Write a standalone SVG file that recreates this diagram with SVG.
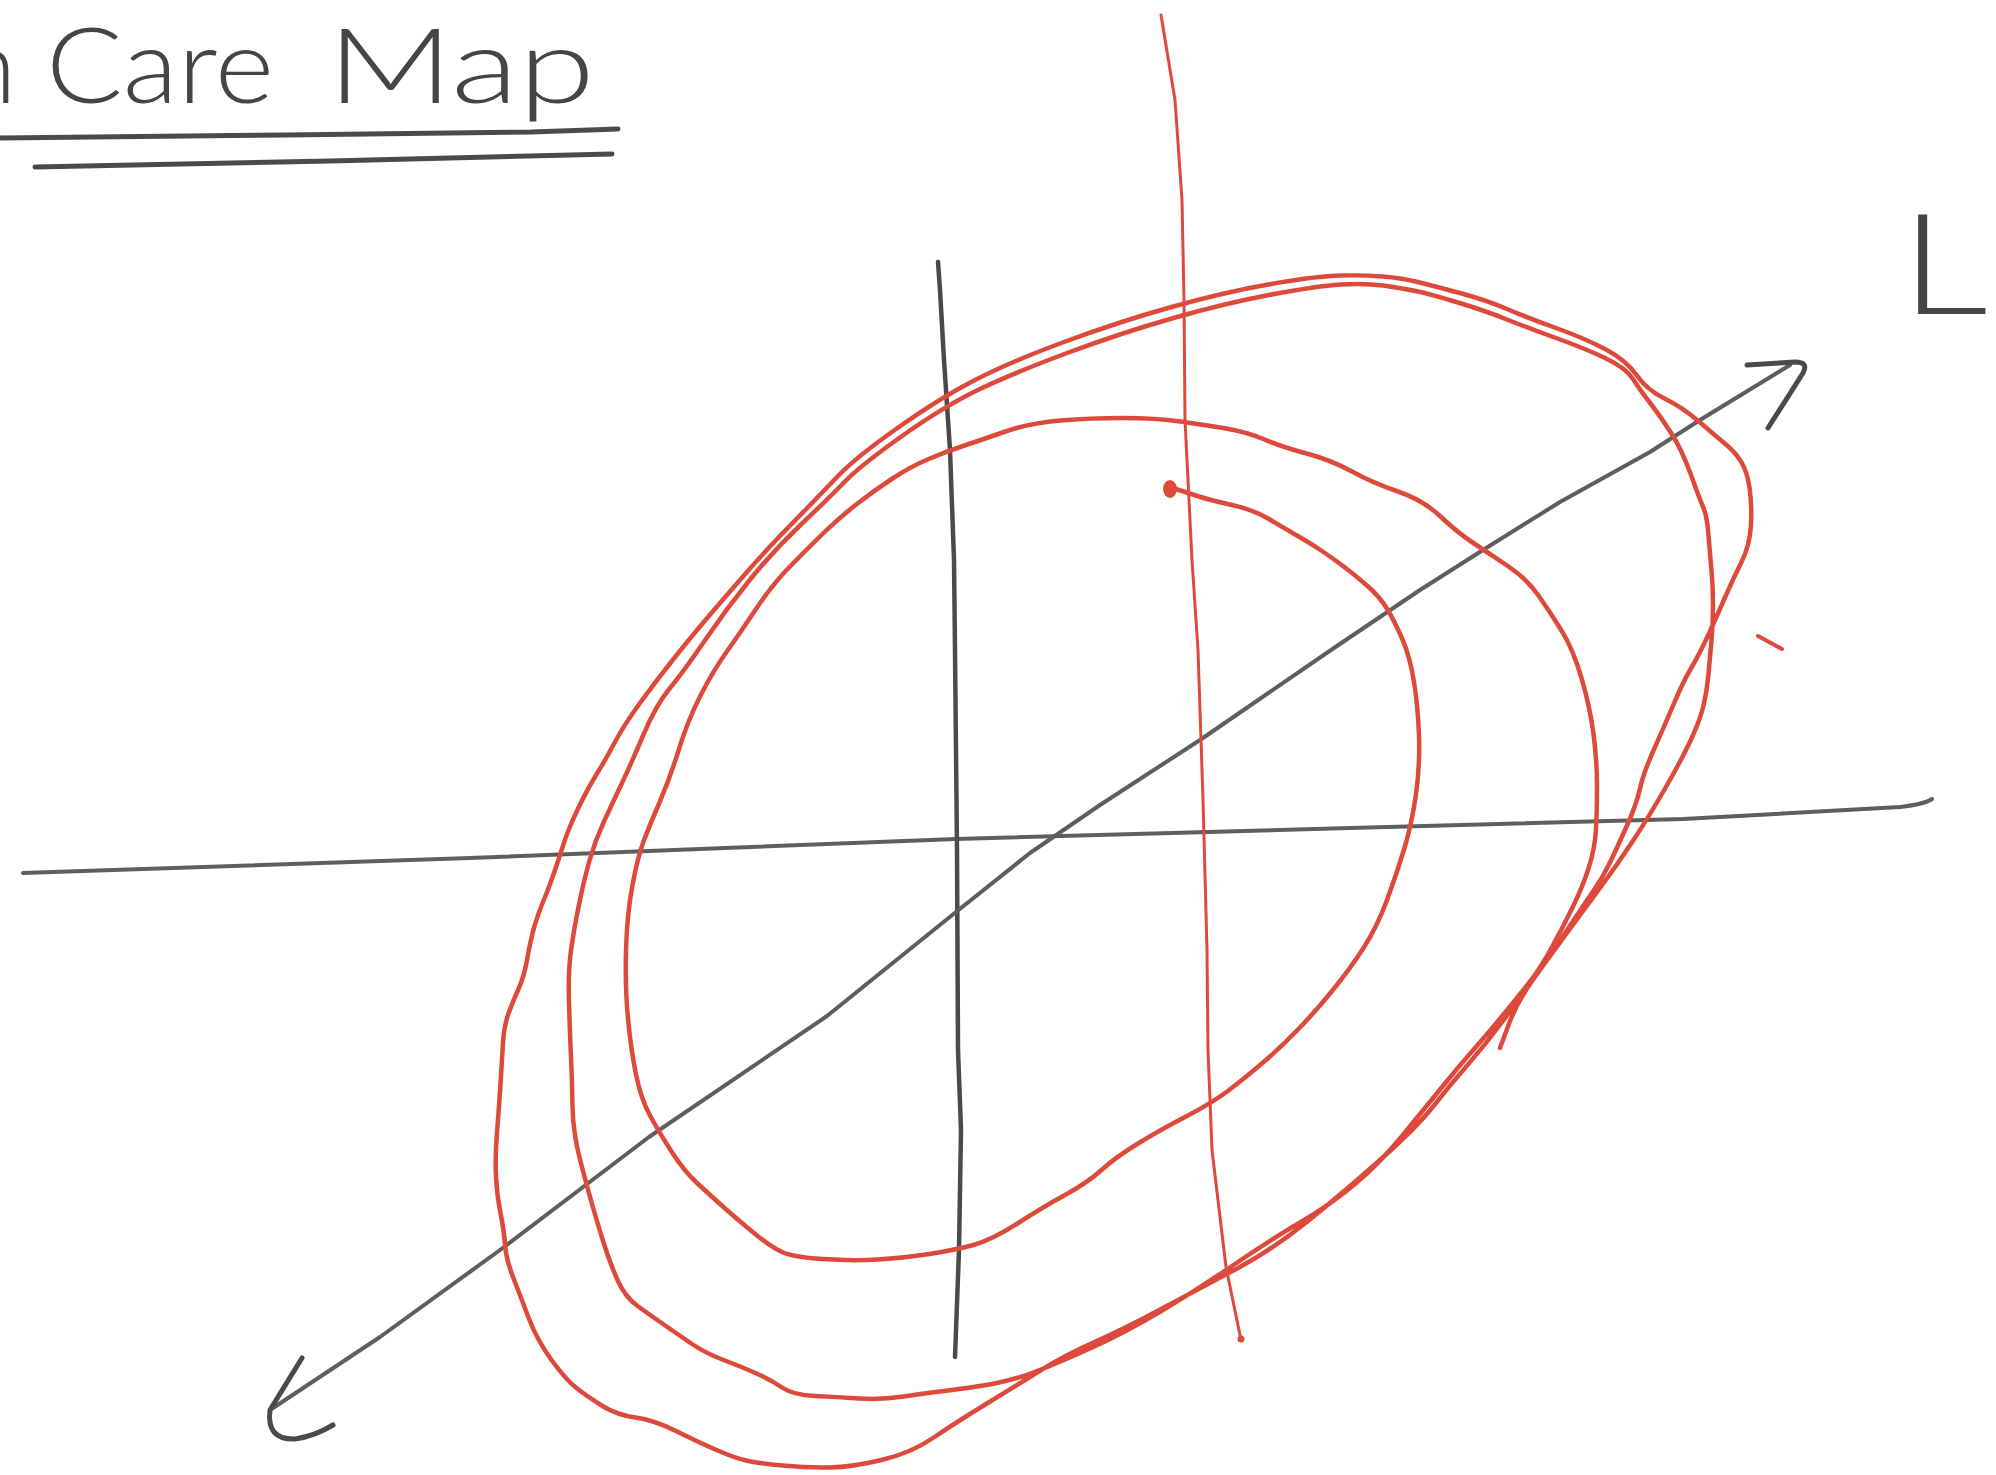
<svg xmlns="http://www.w3.org/2000/svg" width="1996" height="1475" viewBox="0 0 1996 1475">
<style>
.ink{fill:none;stroke:#4a4a4a;stroke-linecap:round;stroke-linejoin:round}
.axis{fill:none;stroke:#5e5e5e;stroke-linecap:round;stroke-linejoin:round}
.red{fill:none;stroke:#dd4a3c;stroke-linecap:round;stroke-linejoin:round}
.hand{font-family:Lato,"Open Sans","Liberation Sans",sans-serif;font-weight:300;fill:#454545}
</style>
<rect width="1996" height="1475" fill="#ffffff"/>

<g id="title">
  <text class="hand" x="-41" y="103" font-size="104">n</text>
  <text class="hand" y="103" font-size="104"><tspan x="46" textLength="228" lengthAdjust="spacingAndGlyphs">Care</tspan> <tspan x="327" textLength="268" lengthAdjust="spacingAndGlyphs">Map</tspan></text>
  <path class="ink" stroke-width="5" d="M -2 138 L 286 135 L 531 132 L 618 129"/>
  <path class="ink" stroke-width="5" d="M 35 167 L 330 161 L 612 154"/>
</g>

<g id="label-L">
  <text class="hand" x="1900" y="314" font-size="140" textLength="88" lengthAdjust="spacingAndGlyphs">L</text>
</g>

<g id="connectors">
  <g id="axis-horizontal">
    <path class="axis" stroke-width="4" d="M 23 873 L 470 858 L 956 839 L 1350 828 L 1683 819 L 1900 807 Q 1925 804 1932 799"/>
  </g>
  <g id="axis-vertical">
    <path class="ink" stroke-width="4.5" d="M 938 262 L 940 290 L 944 360 L 950 450 L 954 560 L 955 650 L 957 850 L 958 1050 L 961 1130 L 959 1250 L 955 1357"/>
  </g>
  <g id="axis-diagonal">
    <path class="axis" stroke-width="4" d="M 270 1410 L 380 1337 L 500 1250 L 649 1137 L 827 1016 L 956 912 L 1030 853 L 1100 805 L 1200 740 L 1331 650 L 1420 590 L 1483 550 L 1560 502 L 1650 452 L 1700 420 L 1790 365"/>
    <path class="ink" stroke-width="5" d="M 302 1358 L 270 1410 Q 266 1440 295 1439 Q 315 1436 333 1425"/>
    <path class="ink" stroke-width="5" d="M 1747 365 L 1795 362 Q 1809 362 1803 373 L 1768 428"/>
  </g>
  <g id="red-vertical">
    <path class="red" stroke-width="3" d="M 1161 15 L 1175 100 L 1182 200 L 1184 300 L 1185 420 L 1192 560 L 1198 650 L 1203 800 L 1207 950 L 1208 1050 L 1212 1150 L 1226 1267 L 1241 1340"/>
    <circle cx="1241" cy="1339" r="3.5" fill="#dd4a3c"/>
  </g>
</g>

<g id="spiral">
  <ellipse cx="1170" cy="489" rx="7" ry="9" fill="#dd4a3c"/>
  <path class="red" stroke-width="4.5" d="M 1170 487 L 1180.5 490.5
Q 1191 494 1200.5 497 Q 1210 500 1232 505 Q 1254 510 1268 518.5 Q 1282 527 1296 535 Q 1310 543 1320.5 550 Q 1331 557 1343 566 Q 1355 575 1367.5 586 Q 1380 597 1387.5 609.5 Q 1395 622 1402.5 639.5 Q 1410 657 1414 682 Q 1418 707 1419 736 Q 1420 765 1416 794 Q 1412 823 1404.5 848 Q 1397 873 1387 900 Q 1377 927 1363.5 948 Q 1350 969 1332.5 990.5 Q 1315 1012 1297.5 1030 Q 1280 1048 1262.5 1063 Q 1245 1078 1228.5 1090.5 Q 1212 1103 1186 1116.5 Q 1160 1130 1138 1143.5 Q 1116 1157 1101.5 1170 Q 1087 1183 1065 1195 Q 1043 1207 1017.5 1223.5 Q 992 1240 973.5 1245 Q 955 1250 929.5 1254 Q 904 1258 878 1259.5 Q 852 1261 822.5 1259 Q 793 1257 782 1252 Q 771 1247 754.5 1233.5 Q 738 1220 724 1207.5 Q 710 1195 697 1183 Q 684 1171 671.5 1151.5 Q 659 1132 650 1115.5 Q 641 1099 636 1074.5 Q 631 1050 628 1018.5 Q 625 987 626 950.5 Q 627 914 632.5 885 Q 638 856 643.5 841.5 Q 649 827 659.5 802.5 Q 670 778 679 749 Q 688 720 700.5 695.5 Q 713 671 726.5 652 Q 740 633 756 609 Q 772 585 789 567.5 Q 806 550 823 533.5 Q 840 517 857.5 503.5 Q 875 490 892.5 478.5 Q 910 467 927.5 459.5 Q 945 452 963 446 Q 981 440 1005.5 431.5 Q 1030 423 1060 420.5 Q 1090 418 1123 418 Q 1156 418 1180.5 421.5 Q 1205 425 1226 428.5 Q 1247 432 1264.5 439.5 Q 1282 447 1306.5 453.5 Q 1331 460 1352 471.5 Q 1373 483 1398 491.5 Q 1423 500 1440.5 516.5 Q 1458 533 1474 543.5 Q 1490 554 1508.5 566.5 Q 1527 579 1538.5 595.5 Q 1550 612 1561.5 630.5 Q 1573 649 1581.5 678 Q 1590 707 1593.5 734 Q 1597 761 1597 785.5 Q 1597 810 1596 829 Q 1595 848 1589 867 Q 1583 886 1573 906.5 Q 1563 927 1551.5 948 Q 1540 969 1528.5 983.5 Q 1517 998 1503.5 1014.5 Q 1490 1031 1475 1048 Q 1460 1065 1442.5 1086.5 Q 1425 1108 1402.5 1135.5 Q 1380 1163 1355 1184 Q 1330 1205 1300 1222.5 Q 1270 1240 1233.5 1265 Q 1197 1290 1160.5 1311.5 Q 1124 1333 1091 1348 Q 1058 1363 1036 1371.5 Q 1014 1380 992 1384 Q 970 1388 948 1390.5 Q 926 1393 903.5 1396.5 Q 881 1400 859 1398.5 Q 837 1397 815 1396 Q 793 1395 782 1387.5 Q 771 1380 756.5 1373.5 Q 742 1367 723.5 1360 Q 705 1353 690.5 1343 Q 676 1333 663 1324 Q 650 1315 637.5 1306 Q 625 1297 617.5 1280 Q 610 1263 604 1244 Q 598 1225 593 1207.5 Q 588 1190 580.5 1161.5 Q 573 1133 572.5 1106.5 Q 572 1080 571 1057.5 Q 570 1035 569 1003.5 Q 568 972 571 950.5 Q 574 929 579 904.5 Q 584 880 589.5 860.5 Q 595 841 604 821.5 Q 613 802 622 783 Q 631 764 643.5 734.5 Q 656 705 670 688 Q 684 671 705.5 639.5 Q 727 608 750.5 579 Q 774 550 802 523.5 Q 830 497 845.5 481 Q 861 465 903.5 435 Q 946 405 981 388.5 Q 1016 372 1068.5 352.5 Q 1121 333 1173.5 318 Q 1226 303 1271.5 294.5 Q 1317 286 1341 284.5 Q 1365 283 1383 285.5 Q 1401 288 1415.5 291 Q 1430 294 1458 302.5 Q 1486 311 1507 319.5 Q 1528 328 1556 338 Q 1584 348 1605 358 Q 1626 368 1633 379 Q 1640 390 1650.5 403.5 Q 1661 417 1671.5 433.5 Q 1682 450 1691 475 Q 1700 500 1703.5 508 Q 1707 516 1708.5 535 Q 1710 554 1711.5 570.5 Q 1713 587 1713 605.5 Q 1713 624 1711.5 640.5 Q 1710 657 1708.5 674 Q 1707 691 1703.5 705.5 Q 1700 720 1691.5 738.5 Q 1683 757 1666.5 786 Q 1650 815 1633.5 840 Q 1617 865 1600 888 Q 1583 911 1566.5 933.5 Q 1550 956 1533.5 979 Q 1517 1002 1501 1023.5 Q 1485 1045 1467.5 1065 Q 1450 1085 1433.5 1106 Q 1417 1127 1380.5 1159.5 Q 1344 1192 1308 1221 Q 1272 1250 1238 1268 Q 1204 1286 1164 1307.5 Q 1124 1329 1094.5 1342 Q 1065 1355 1039.5 1371 Q 1014 1387 984.5 1405 Q 955 1423 933 1438 Q 911 1453 881.5 1460 Q 852 1467 830 1467.5 Q 808 1468 782.5 1465.5 Q 757 1463 746 1460.5 Q 735 1458 716.5 1450 Q 698 1442 676 1431 Q 654 1420 635.5 1417.5 Q 617 1415 602.5 1406 Q 588 1397 577 1388.5 Q 566 1380 551.5 1360 Q 537 1340 528.5 1317.5 Q 520 1295 513 1277 Q 506 1259 505 1244.5 Q 504 1230 500.5 1213 Q 497 1196 496 1176.5 Q 495 1157 497 1132.5 Q 499 1108 500.5 1084 Q 502 1060 503 1043 Q 504 1026 508.5 1013.5 Q 513 1001 518.5 989 Q 524 977 527.5 957.5 Q 531 938 534.5 926 Q 538 914 545 897 Q 552 880 559 858 Q 566 836 570 826.5 Q 574 817 581 802.5 Q 588 788 597 773.5 Q 606 759 615 742 Q 624 725 640 703 Q 656 681 673.5 659 Q 691 637 705.5 620 Q 720 603 743 576.5 Q 766 550 793 522.5 Q 820 495 837.5 476.5 Q 855 458 897.5 428 Q 940 398 975 380 Q 1010 362 1064 342 Q 1118 322 1171.5 307 Q 1225 292 1271 284 Q 1317 276 1341 275.5 Q 1365 275 1383 276.5 Q 1401 278 1415.5 281.5 Q 1430 285 1458 292.5 Q 1486 300 1507 309 Q 1528 318 1556 328 Q 1584 338 1605 349 Q 1626 360 1636.5 375 Q 1647 390 1664.5 398.5 Q 1682 407 1699.5 422 Q 1717 437 1726 444.5 Q 1735 452 1741 461.5 Q 1747 471 1749.5 487.5 Q 1752 504 1751 524.5 Q 1750 545 1741.5 562 Q 1733 579 1725 597.5 Q 1717 616 1708.5 634.5 Q 1700 653 1691.5 667.5 Q 1683 682 1675 701 Q 1667 720 1655 747 Q 1643 774 1640 788.5 Q 1637 803 1627 825.5 Q 1617 848 1610 862.5 Q 1603 877 1593 891.5 Q 1583 906 1566.5 931 Q 1550 956 1533.5 979 Q 1517 1002 1508.5 1025 L 1500 1048"/>
  <path class="red" stroke-width="4" d="M 1758 636 L 1782 649"/>
</g>
</svg>
